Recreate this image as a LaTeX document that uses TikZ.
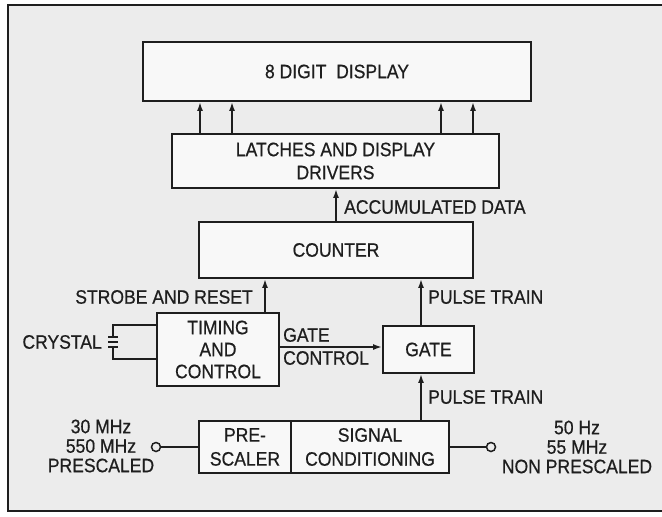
\documentclass[tikz,border=0pt]{standalone}
\usepackage{fontspec}
\setmainfont{Liberation Sans}[FakeStretch=0.9, FakeBold=0.6]
\usetikzlibrary{arrows.meta}
\definecolor{bg}{RGB}{236,236,236}
\definecolor{boxfill}{RGB}{248,248,248}
\definecolor{ink}{RGB}{30,30,30}
\newcommand\lbl{\fontsize{19.5}{22}\selectfont}
\begin{document}
\begin{tikzpicture}[x=1pt,y=-1pt,
  blk/.style={draw=ink, line width=1.8pt, fill=boxfill, inner sep=0pt, align=center, font=\lbl, text=ink},
  lab/.style={inner sep=0pt, font=\lbl, text=ink},
  term/.style={inner sep=0pt, align=center, font=\fontsize{19.5}{19.5}\selectfont, text=ink},
  arr/.style={draw=ink, line width=1.8pt, -{Latex[length=9pt,width=6pt]}},
  wire/.style={draw=ink, line width=1.8pt},
  pin/.style={circle, draw=ink, line width=1.5pt, fill=bg, minimum size=9pt, inner sep=0pt}]
\useasboundingbox (0,0) rectangle (662,517);
\fill[white] (0,0) rectangle (662,517);
\fill[bg] (8,5) rectangle (680,511);
\draw[ink, line width=2.2pt] (680,5) -- (8,5) -- (8,511) -- (680,511);

% blocks
\node[blk, minimum width=388pt, minimum height=59pt] (disp) at (337,71.5) {8 DIGIT\ \ DISPLAY};
\node[blk, minimum width=327pt, minimum height=54pt] (latch) at (335.5,161) {LATCHES AND DISPLAY\\[1pt]DRIVERS};
\node[blk, minimum width=274pt, minimum height=56pt] (counter) at (336,250) {COUNTER};
\node[blk, minimum width=122pt, minimum height=73pt] (timing) at (218,349.5) {TIMING\\AND\\CONTROL};
\node[blk, minimum width=91pt, minimum height=47pt] (gate) at (428.5,349.5) {GATE};
\node[blk, minimum width=92pt, minimum height=52pt] (pre) at (245,447) {PRE-\\[2pt]SCALER};
\node[blk, minimum width=158pt, minimum height=52pt] (sig) at (370,447) {SIGNAL\\[2pt]CONDITIONING};

% helper coordinates
\coordinate (a1) at (200,0);
\coordinate (a2) at (232,0);
\coordinate (a3) at (441,0);
\coordinate (a4) at (473,0);
\coordinate (acc) at (336,0);
\coordinate (sr) at (265,0);
\coordinate (ptx) at (421,0);
\coordinate (gc) at (0,347);

% arrows
\draw[arr] (latch.north -| a1) -- (disp.south -| a1);
\draw[arr] (latch.north -| a2) -- (disp.south -| a2);
\draw[arr] (latch.north -| a3) -- (disp.south -| a3);
\draw[arr] (latch.north -| a4) -- (disp.south -| a4);
\draw[arr] (counter.north -| acc) -- (latch.south -| acc);
\draw[arr] (timing.north -| sr) -- (counter.south -| sr);
\draw[arr] (gate.north -| ptx) -- (counter.south -| ptx);
\draw[arr] (sig.north -| ptx) -- (gate.south -| ptx);
\draw[arr] (timing.east |- gc) -- (gate.west |- gc);

% labels
\node[lab, anchor=west] (accl) at (344,207) {ACCUMULATED DATA};
\node[lab, anchor=east] (srl) at (253,297) {STROBE AND RESET};
\node[lab, anchor=west] (pt1) at (428,297) {PULSE TRAIN};
\node[lab, anchor=west] (gl1) at (283,335) {GATE};
\node[lab, anchor=west] (gl2) at (283,358) {CONTROL};
\node[lab, anchor=west] (pt2) at (428,397) {PULSE TRAIN};

% crystal
\coordinate (ct) at (113,325);
\coordinate (cb) at (113,359);
\coordinate (cp1) at (113,337);
\coordinate (cp2) at (113,347);
\draw[wire] (timing.west |- ct) -- (ct) -- (cp1);
\draw[wire] (timing.west |- cb) -- (cb) -- (cp2);
\draw[wire] ([xshift=-5pt]cp1) -- ([xshift=5pt]cp1);
\draw[wire] ([xshift=-5pt]cp2) -- ([xshift=5pt]cp2);
\draw[wire] (108,342) -- (118,342);
\node[lab, anchor=east] (xl) at (102,342) {CRYSTAL};

% terminals
\node[pin] (pinL) at (156,447) {};
\node[pin] (pinR) at (491,447) {};
\draw[wire] (pinL) -- (pre.west);
\draw[wire] (sig.east) -- (pinR);
\node[term] (tl) at (101,446) {30 MHz\\550 MHz\\PRESCALED};
\node[term] (tr) at (577,447) {50 Hz\\55 MHz\\NON PRESCALED};
\end{tikzpicture}
\end{document}
